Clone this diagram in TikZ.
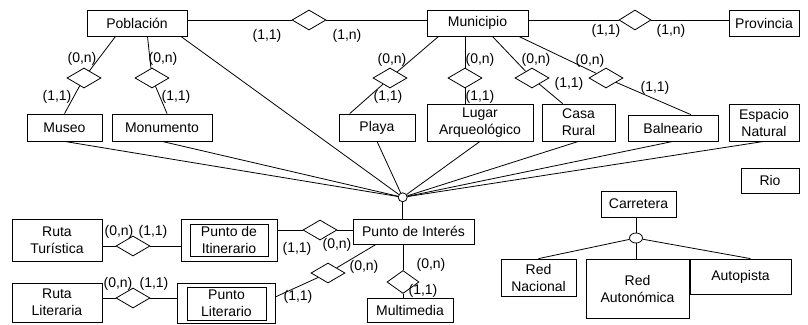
\documentclass[tikz,border=0pt]{standalone}
\usepackage{fontspec}
\setmainfont{Liberation Sans}
\usetikzlibrary{shapes.geometric}
\tikzstyle{ent} = [draw, rectangle, inner sep=0pt, align=center]
\tikzstyle{rel} = [draw, diamond, inner sep=0pt, minimum width=34pt, minimum height=20pt]
\tikzstyle{card} = [inner sep=0pt]

\begin{document}
\begin{tikzpicture}[x=1pt, y=-1pt, line width=0.8pt, font=\fontsize{14}{17}\selectfont]
  \useasboundingbox (0,0) rectangle (808,324);

  % entidades de arriba
  \node[ent, minimum width=100pt, minimum height=26pt] (pob) at (137,23) {Población};
  \node[ent, minimum width=101pt, minimum height=26pt] (muni) at (477.5,23) {Municipio};
  \node[ent, minimum width=70pt, minimum height=26pt] (prov) at (764,23) {Provincia};

  \node[ent, minimum width=75pt, minimum height=27pt] (mus) at (64.5,127.5) {Museo};
  \node[ent, minimum width=100pt, minimum height=27pt] (mon) at (162,127.5) {Monumento};
  \node[ent, minimum width=76pt, minimum height=27pt] (pla) at (377,127.5) {Playa};
  \node[ent, minimum width=106pt, minimum height=37pt] (lug) at (480,122.5) {Lugar\\Arqueológico};
  \node[ent, minimum width=73pt, minimum height=37pt] (cas) at (578.5,122.5) {Casa\\Rural};
  \node[ent, minimum width=90pt, minimum height=26pt] (bal) at (673,128) {Balneario};
  \node[ent, minimum width=70pt, minimum height=37pt] (esp) at (764,122.5) {Espacio\\Natural};
  \node[ent, minimum width=58pt, minimum height=25pt] (rio) at (770,180.5) {Rio};

  % relaciones de arriba
  \node[rel] (r1) at (309,20) {};
  \node[rel, minimum width=32pt] (r2) at (635,20) {};
  \node[rel] (rmus) at (84,78) {};
  \node[rel] (rmon) at (152,78) {};
  \node[rel] (rpla) at (390,78) {};
  \node[rel] (rlug) at (465,78) {};
  \node[rel] (rcas) at (532,78) {};
  \node[rel] (rbal) at (606,78) {};

  \draw (pob.east |- r1) -- (r1) -- (muni.west |- r1);
  \draw (muni.east |- r2) -- (r2) -- (prov.west |- r2);
  \draw (pob.212) -- (rmus) -- (mus.north);
  \draw (pob.308) -- (rmon) -- (mon.70);
  \draw (muni.199) -- (rpla) -- (pla.153);
  \draw (muni.south -| rlug) -- (rlug) -- (lug.north -| rlug);
  \draw (muni.318) -- (rcas) -- (cas.130);
  \draw (muni.342) -- (rbal) -- (bal.37);

  % generalizacion punto de interes
  \node[draw, circle, inner sep=0pt, minimum size=9pt] (isa) at (402.7,197.3) {};
  \foreach \s in {pob.343, mus.south, mon.south, pla.south, lug.south, cas.south, bal.south, esp.south}
    \draw (\s) -- (isa);

  \node[ent, minimum width=121pt, minimum height=25pt] (pi) at (413.5,231.5) {Punto de Interés};
  \draw (isa) -- (pi.north -| isa);

  % rutas
  \node[ent, minimum width=90pt, minimum height=42pt] (rt) at (57,240) {Ruta\\Turística};
  \node[ent, minimum width=96pt, minimum height=42pt] (itin) at (229,240) {};
  \node[ent, minimum width=78pt, minimum height=32pt] (itinIn) at (229,240) {Punto de\\Itinerario};
  \node[ent, minimum width=90pt, minimum height=39pt] (rl) at (57,302.5) {Ruta\\Literaria};
  \node[ent, minimum width=98pt, minimum height=40pt] (lit) at (226,303) {};
  \node[ent, minimum width=79pt, minimum height=33pt] (litIn) at (226.5,303.5) {Punto\\Literario};
  \node[ent, minimum width=86pt, minimum height=24pt] (mm) at (410,310) {Multimedia};

  \node[rel] (rrt) at (133,246) {};
  \node[rel] (rrl) at (133,298) {};
  \node[rel] (rit) at (320,230) {};
  \node[rel] (rlit) at (328,273) {};
  \node[rel, minimum width=32pt, minimum height=23pt] (rmm) at (403,282) {};

  \draw (rt.east |- rrt) -- (rrt) -- (itin.west |- rrt);
  \draw (rl.east |- rrl) -- (rrl) -- (lit.west |- rrl);
  \draw (itin.east |- rit) -- (rit) -- (pi.west |- rit);
  \draw (pi.199) -- (rlit) -- (lit.7);
  \draw (pi.south -| rmm) -- (rmm) -- (mm.north -| rmm);

  % carretera
  \node[ent, minimum width=75pt, minimum height=26pt] (car) at (638.5,204) {Carretera};
  \node[draw, ellipse, inner sep=0pt, minimum width=13pt, minimum height=10pt] (isa2) at (636,238) {};
  \node[ent, minimum width=75pt, minimum height=37pt] (rn) at (538.5,277.5) {Red\\Nacional};
  \node[ent, minimum width=103pt, minimum height=59pt] (ra) at (637.5,288.5) {Red\\Autonómica};
  \node[ent, minimum width=101pt, minimum height=35pt] (ap) at (740.5,276.5) {Autopista};

  \draw (car.south -| isa2) -- (isa2);
  \draw (isa2) -- (rn.north);
  \draw (isa2) -- (ra.north -| isa2);
  \draw (isa2) -- (ap.61);

  % cardinalidades
  \node[card] at (82,59) {(0,n)};
  \node[card] at (57,97) {(1,1)};
  \node[card] at (163,59) {(0,n)};
  \node[card] at (176,97) {(1,1)};
  \node[card] at (267,36) {(1,1)};
  \node[card] at (347,36) {(1,n)};
  \node[card] at (392,60) {(0,n)};
  \node[card] at (388,97) {(1,1)};
  \node[card] at (480,60) {(0,n)};
  \node[card] at (480,97) {(1,1)};
  \node[card] at (536,60) {(0,n)};
  \node[card] at (569,84) {(1,1)};
  \node[card] at (590,61) {(0,n)};
  \node[card] at (655,88) {(1,1)};
  \node[card] at (606,31) {(1,1)};
  \node[card] at (671,31) {(1,n)};
  \node[card] at (119,232) {(0,n)};
  \node[card] at (153,232) {(1,1)};
  \node[card] at (297,249) {(1,1)};
  \node[card] at (337,245) {(0,n)};
  \node[card] at (364,267) {(0,n)};
  \node[card] at (298,297) {(1,1)};
  \node[card] at (431,265) {(0,n)};
  \node[card] at (423,291) {(1,1)};
  \node[card] at (118,284) {(0,n)};
  \node[card] at (154,284) {(1,1)};
\end{tikzpicture}
\end{document}
